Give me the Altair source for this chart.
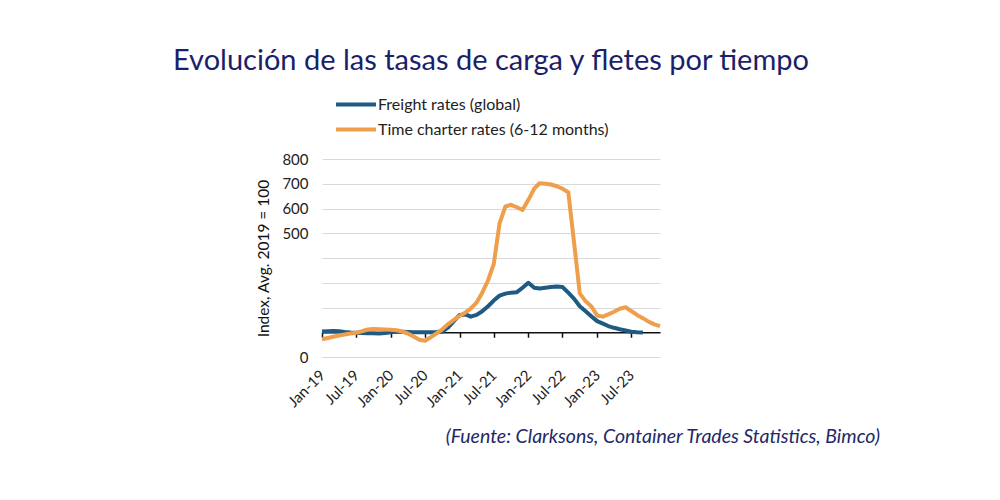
import altair as alt
import pandas as pd

title_text = "Evolución de las tasas de carga y fletes por tiempo"
source_text = "(Fuente: Clarksons, Container Trades Statistics, Bimco)"
y_title = "Index, Avg. 2019 = 100"
series_names = ["Freight rates (global)", "Time charter rates (6-12 months)"]
series_colors = ["#1F5A82", "#EF9E4C"]

months = [f"{y}-{m:02d}-01T00:00:00" for y in range(2019, 2024) for m in range(1, 13)]

freight = [103, 104, 105, 104, 101, 99, 98, 97, 96, 96, 95, 97,
           100, 102, 102, 101, 100, 100, 100, 100, 101, 103, 120, 145,
           170, 172, 163, 170, 185, 205, 228, 248, 256, 260, 262, 280,
           300, 280, 277, 280, 283, 285, 283, 260, 235, 205, 185, 165,
           145, 135, 125, 118, 112, 107, 102, 100, 99]

charter = [72, 77, 82, 87, 91, 95, 98, 104, 111, 113, 112, 111,
           110, 108, 103, 95, 83, 70, 66, 80, 96, 112, 133, 150,
           166, 180, 196, 220, 260, 310, 375, 540, 608, 615, 605, 594,
           635, 680, 702, 700, 697, 690, 680, 666, 460, 257, 225, 205,
           168, 163, 172, 183, 195, 201, 186, 170, 157, 143, 132, 125]

rows = []
for d, v in zip(months, freight):
    rows.append({"date": d, "value": v, "series": series_names[0]})
for d, v in zip(months, charter):
    rows.append({"date": d, "value": v, "series": series_names[1]})
df = pd.DataFrame(rows)

FONT = "Lato"

lines = alt.Chart(df).mark_line(strokeWidth=4, strokeJoin="round").encode(
    x=alt.X("date:T",
            scale=alt.Scale(domain=[months[0], months[-1]]),
            axis=alt.Axis(title=None, format="%b-%y", values=months[::6],
                          grid=False, domain=True, domainColor="#111", domainWidth=1.5,
                          ticks=True, tickColor="#111", tickWidth=1.5, tickSize=5,
                          offset=-24.75, labelAngle=-45, labelAlign="right",
                          labelBaseline="middle", labelPadding=35,
                          labelOverlap=False,
                          labelFont=FONT, labelFontSize=15, labelColor="#222")),
    y=alt.Y("value:Q",
            scale=alt.Scale(domain=[0, 800], nice=False),
            axis=alt.Axis(title=y_title, values=list(range(0, 801, 100)),
                          labelExpr="(datum.value >= 500 || datum.value == 0) ? datum.label : ''",
                          domain=False, ticks=False, grid=True, gridColor="#D9D9D9",
                          gridWidth=1.2, labelPadding=14, labelFont=FONT,
                          labelFontSize=15, labelColor="#222",
                          titleFont=FONT, titleFontSize=15.5, titleFontWeight="normal",
                          titleColor="#111", titlePadding=10)),
    color=alt.Color("series:N",
                    scale=alt.Scale(domain=series_names, range=series_colors),
                    sort=series_names,
                    legend=alt.Legend(title=None, orient="none", legendX=12, legendY=-63,
                                      symbolType="stroke", symbolStrokeWidth=4,
                                      symbolSize=1600, clipHeight=17, rowPadding=8,
                                      labelOffset=0, labelLimit=0, labelFont=FONT,
                                      labelFontSize=16, labelColor="#222")),
)

src = alt.Chart(pd.DataFrame({"t": [source_text]})).mark_text(
    align="right", baseline="middle", font=FONT, fontSize=19.5, fontStyle="italic",
    color="#23286A"
).encode(text="t:N", x=alt.value(558), y=alt.value(278))

chart = alt.layer(lines, src).properties(
    width=338, height=198,
    title=alt.TitleParams(title_text, anchor="middle", frame="group", font=FONT,
                          fontSize=29, fontWeight="normal", color="#1B1F6B", offset=20),
    autosize=alt.AutoSizeParams(type="none"),
    padding={"left": 314, "top": 151, "right": 320, "bottom": 120},
).configure_view(stroke=None)

chart.save("out.html", embed_options={"renderer": "svg", "actions": False})
